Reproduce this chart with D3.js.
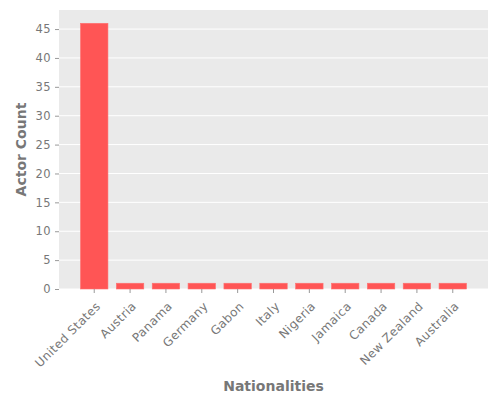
<!DOCTYPE html>
<html>
<head>
<meta charset="utf-8">
<script src="https://cdn.jsdelivr.net/npm/d3@7"></script>
<style>
  body { margin: 0; background: #fff; }
  text { font-family: "DejaVu Sans", sans-serif; }
</style>
</head>
<body>
<svg id="chart" width="500" height="400"></svg>
<script>
const nationalities = ["United States", "Austria", "Panama", "Germany", "Gabon", "Italy",
  "Nigeria", "Jamaica", "Canada", "New Zealand", "Australia"];
const actorCounts = [46, 1, 1, 1, 1, 1, 1, 1, 1, 1, 1];
const yTicks = [0, 5, 10, 15, 20, 25, 30, 35, 40, 45];

const svg = d3.select("#chart");
const margin = { top: 10, right: 12, bottom: 111, left: 59 };
const width = 500 - margin.left - margin.right;
const height = 400 - margin.top - margin.bottom;

const g = svg.append("g").attr("transform", `translate(${margin.left},${margin.top})`);

const x = d3.scaleBand()
  .domain(nationalities)
  .range([0, width])
  .paddingInner(0.235)
  .paddingOuter(0.6);

const y = d3.scaleLinear()
  .domain([0, 46 * 1.05])
  .range([height, 0]);

g.append("rect")
  .attr("width", width)
  .attr("height", height)
  .attr("fill", "#eaeaea");

// grid
g.append("g")
  .selectAll("line")
  .data(yTicks)
  .enter()
  .append("line")
  .attr("x1", 0)
  .attr("x2", width)
  .attr("y1", d => y(d))
  .attr("y2", d => y(d))
  .attr("stroke", "#fff")
  .attr("stroke-width", 1);

g.append("g")
  .selectAll("rect")
  .data(actorCounts)
  .enter()
  .append("rect")
  .attr("x", (d, i) => x(nationalities[i]))
  .attr("y", d => y(d))
  .attr("width", x.bandwidth())
  .attr("height", d => height - y(d))
  .attr("fill", "#ff5555")
  .attr("stroke", "#ff7070")
  .attr("stroke-width", 0.6);

const yAxis = d3.axisLeft(y).tickValues(yTicks).tickSize(4).tickPadding(4);
const yG = g.append("g").call(yAxis);
yG.select(".domain").remove();
yG.selectAll("line").attr("stroke", "#999");
yG.selectAll("text")
  .attr("fill", "#777")
  .style("font-size", "11.5px")
  .style("letter-spacing", "0.4px");

const xAxis = d3.axisBottom(x).tickSize(4).tickPadding(3);
const xG = g.append("g").attr("transform", `translate(0,${height})`).call(xAxis);
xG.select(".domain").remove();
xG.selectAll("line").attr("stroke", "#999");
xG.selectAll("text")
  .attr("fill", "#777")
  .style("font-size", "12px")
  .style("letter-spacing", "0.4px")
  .style("text-anchor", "end")
  .attr("x", 0)
  .attr("y", 0)
  .attr("dx", 0)
  .attr("dy", "0.35em")
  .attr("transform", "translate(4,15) rotate(-45)");

svg.append("text")
  .attr("x", margin.left + width / 2)
  .attr("y", 391)
  .attr("text-anchor", "middle")
  .attr("fill", "#777")
  .style("font-size", "14px")
  .style("font-weight", "600")
  .text("Nationalities");

svg.append("text")
  .attr("transform", "rotate(-90)")
  .attr("x", -(margin.top + height / 2))
  .attr("y", 26)
  .attr("text-anchor", "middle")
  .attr("fill", "#777")
  .style("font-size", "14px")
  .style("font-weight", "600")
  .text("Actor Count");
</script>
</body>
</html>
